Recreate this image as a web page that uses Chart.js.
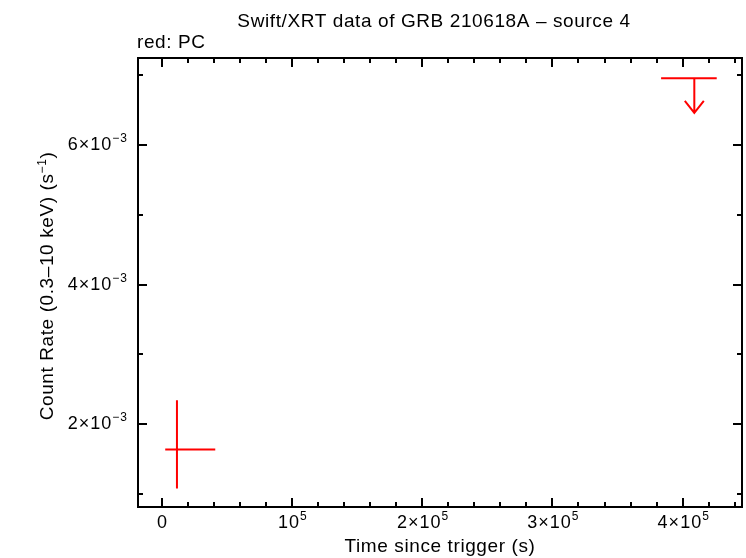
<!DOCTYPE html>
<html>
<head>
<meta charset="utf-8">
<script src="https://cdn.jsdelivr.net/npm/chart.js@4/dist/chart.umd.min.js"></script>
<style>
  html, body { margin: 0; padding: 0; background: #fff; }
  canvas { display: block; }
</style>
</head>
<body>
<canvas id="lc" width="746" height="558"></canvas>
<script>
// --- data ---
const pcTime = [11800];
const pcTimeLo = [2800];
const pcTimeHi = [41200];
const pcRate = [1.637e-3];
const pcRateLo = [1.077e-3];
const pcRateHi = [2.344e-3];

// upper limit (PC)
const ulTime = [408900];
const ulTimeLo = [383400];
const ulTimeHi = [426100];
const ulRate = [6.957e-3];
const ulArrowTo = [6.463e-3];

// axes
const xTickValues = [0, 1e5, 2e5, 3e5, 4e5];
const xTickLabels = ['0', '10^5', '2×10^5', '3×10^5', '4×10^5'];
const yTickValues = [2e-3, 4e-3, 6e-3];
const yTickLabels = ['2×10^−3', '4×10^−3', '6×10^−3'];

const FONT = '"Liberation Sans", Arial, sans-serif';
const RED = '#ff0000';

// draw "base^sup[^tail]" text; align is 'left', 'center' or 'right'
function drawSupText(ctx, label, x, y, size, supSize, raise, spacing, align) {
    const parts = label.split('^');
    const base = parts[0];
    const sup = parts[1] || '';
    const tail = parts[2] || '';
    ctx.letterSpacing = spacing + 'px';
    ctx.font = size + 'px ' + FONT;
    const wb = ctx.measureText(base).width;
    const wt = ctx.measureText(tail).width;
    ctx.font = supSize + 'px ' + FONT;
    const ws = ctx.measureText(sup).width;
    const total = wb + ws + wt;
    let start = x;
    if (align === 'center') start = x - total / 2;
    if (align === 'right') start = x - total;
    ctx.textAlign = 'left';
    ctx.textBaseline = 'alphabetic';
    ctx.font = size + 'px ' + FONT;
    ctx.fillText(base, start, y);
    if (tail) ctx.fillText(tail, start + wb + ws, y);
    if (sup) {
        ctx.font = supSize + 'px ' + FONT;
        ctx.fillText(sup, start + wb, y - raise);
    }
    ctx.letterSpacing = '0px';
}

const framePlugin = {
    id: 'frameAndLabels',
    afterDraw(chart) {
        const ctx = chart.ctx;
        const area = chart.chartArea;
        const xs = chart.scales.x;
        const ys = chart.scales.y;
        ctx.save();

        // frame
        ctx.strokeStyle = '#000';
        ctx.lineWidth = 2;
        ctx.strokeRect(area.left, area.top, area.right - area.left, area.bottom - area.top);

        // x ticks (inside, bottom and top)
        const xStep = 2e4;
        for (let v = Math.ceil(xs.min / xStep) * xStep; v <= xs.max; v += xStep) {
            const px = Math.round(xs.getPixelForValue(v));
            const major = Math.abs(v / 1e5 - Math.round(v / 1e5)) < 1e-6;
            const len = major ? 9 : 5;
            ctx.beginPath();
            ctx.moveTo(px, area.bottom);
            ctx.lineTo(px, area.bottom - len);
            ctx.moveTo(px, area.top);
            ctx.lineTo(px, area.top + len);
            ctx.stroke();
        }
        // y ticks (inside, left and right)
        const yStep = 1e-3;
        for (let i = Math.ceil(ys.min / yStep); i * yStep <= ys.max; i++) {
            const py = Math.round(ys.getPixelForValue(i * yStep));
            const len = i % 2 === 0 ? 9 : 5;
            ctx.beginPath();
            ctx.moveTo(area.left, py);
            ctx.lineTo(area.left + len, py);
            ctx.moveTo(area.right, py);
            ctx.lineTo(area.right - len, py);
            ctx.stroke();
        }

        // tick labels
        ctx.fillStyle = '#000';
        xTickValues.forEach((v, i) => {
            drawSupText(ctx, xTickLabels[i], xs.getPixelForValue(v) + 1, 528, 18, 12, 8, 1, 'center');
        });
        yTickValues.forEach((v, i) => {
            drawSupText(ctx, yTickLabels[i], 128, ys.getPixelForValue(v) + 5, 18, 12, 8, 1, 'right');
        });

        // titles
        drawSupText(ctx, 'Swift/XRT data of GRB 210618A – source 4', 434, 27, 19, 13, 8, 0.6, 'center');
        drawSupText(ctx, 'red: PC', 137, 48, 19, 13, 8, 0.6, 'left');
        drawSupText(ctx, 'Time since trigger (s)', 440, 552, 19, 13, 8, 0.6, 'center');

        ctx.save();
        ctx.translate(53, 286);
        ctx.rotate(-Math.PI / 2);
        drawSupText(ctx, 'Count Rate (0.3–10 keV) (s^−1^)', 0, 0, 19, 12, 7, 0.6, 'center');
        ctx.restore();

        // error bars (PC)
        ctx.strokeStyle = RED;
        ctx.lineWidth = 2;
        pcTime.forEach((t, i) => {
            const cx = xs.getPixelForValue(t);
            const cy = ys.getPixelForValue(pcRate[i]);
            ctx.beginPath();
            ctx.moveTo(xs.getPixelForValue(pcTimeLo[i]), cy);
            ctx.lineTo(xs.getPixelForValue(pcTimeHi[i]), cy);
            ctx.moveTo(cx, ys.getPixelForValue(pcRateLo[i]));
            ctx.lineTo(cx, ys.getPixelForValue(pcRateHi[i]));
            ctx.stroke();
        });

        // upper limits
        ulTime.forEach((t, i) => {
            const cx = xs.getPixelForValue(t);
            const cy = ys.getPixelForValue(ulRate[i]);
            const tip = ys.getPixelForValue(ulArrowTo[i]);
            ctx.beginPath();
            ctx.moveTo(xs.getPixelForValue(ulTimeLo[i]), cy);
            ctx.lineTo(xs.getPixelForValue(ulTimeHi[i]), cy);
            ctx.moveTo(cx, cy);
            ctx.lineTo(cx, tip);
            ctx.moveTo(cx - 9.5, tip - 12);
            ctx.lineTo(cx, tip);
            ctx.lineTo(cx + 9.5, tip - 12);
            ctx.stroke();
        });

        ctx.restore();
    }
};

new Chart(document.getElementById('lc'), {
    type: 'scatter',
    data: {
        datasets: [{
            label: 'PC',
            data: pcTime.map((t, i) => ({ x: t, y: pcRate[i] })),
            pointRadius: 0,
            borderColor: RED,
            backgroundColor: RED
        }, {
            label: 'PC upper limit',
            data: ulTime.map((t, i) => ({ x: t, y: ulRate[i] })),
            pointRadius: 0,
            borderColor: RED,
            backgroundColor: RED
        }]
    },
    options: {
        responsive: false,
        animation: false,
        layout: { padding: { left: 138, right: 4, top: 58, bottom: 51 } },
        plugins: {
            legend: { display: false },
            tooltip: { enabled: false },
            title: { display: false }
        },
        scales: {
            x: { type: 'linear', display: false, min: -18100, max: 445500 },
            y: { type: 'linear', display: false, min: 0.813e-3, max: 7.249e-3 }
        }
    },
    plugins: [framePlugin]
});
</script>
</body>
</html>
